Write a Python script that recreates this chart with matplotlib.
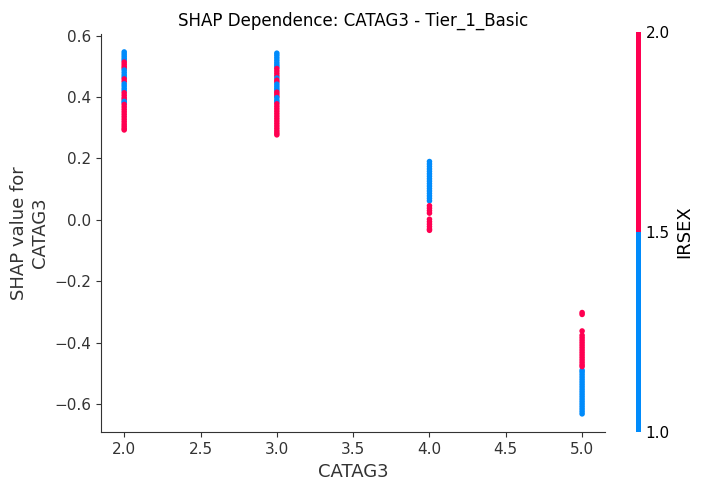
import numpy as np
import matplotlib
matplotlib.use("Agg")
import matplotlib.pyplot as plt
from matplotlib.colors import ListedColormap

# SHAP values per CATAG3 level, with the IRSEX value (1 or 2) of each point
cat2_shap = [0.547, 0.540, 0.533, 0.526, 0.520,
             0.514, 0.507, 0.500, 0.494,
             0.488, 0.480, 0.472, 0.465,
             0.459, 0.451,
             0.443, 0.436, 0.428, 0.421,
             0.414, 0.406, 0.398, 0.392,
             0.386, 0.382,
             0.376, 0.368, 0.360, 0.352, 0.344, 0.336, 0.328, 0.320,
             0.312, 0.305, 0.298, 0.293]
cat2_sex = [1, 1, 1, 1, 1,
            2, 2, 2, 2,
            1, 1, 1, 1,
            2, 2,
            1, 1, 1, 1,
            2, 2, 2, 2,
            1, 1,
            2, 2, 2, 2, 2, 2, 2, 2,
            2, 2, 2, 2]

cat3_shap = [0.543, 0.536, 0.528, 0.520, 0.512, 0.505, 0.499,
             0.493, 0.485, 0.477, 0.469,
             0.462,
             0.455, 0.449,
             0.442, 0.435, 0.428, 0.422,
             0.416, 0.410, 0.403,
             0.398, 0.390, 0.384,
             0.378, 0.370, 0.362, 0.354, 0.346, 0.338, 0.330, 0.322,
             0.314, 0.306, 0.298, 0.290, 0.283, 0.277]
cat3_sex = [1, 1, 1, 1, 1, 1, 1,
            2, 2, 2, 2,
            1,
            2, 2,
            1, 1, 1, 1,
            2, 2, 2,
            1, 1, 1,
            2, 2, 2, 2, 2, 2, 2, 2,
            2, 2, 2, 2, 2, 2]

cat4_shap = [0.190, 0.182, 0.174, 0.166, 0.158, 0.150, 0.142, 0.134, 0.126,
             0.118, 0.110, 0.102, 0.094, 0.086, 0.078, 0.070, 0.062,
             0.046, 0.038, 0.030, 0.022,
             0.002, -0.006, -0.014, -0.022, -0.030, -0.034]
cat4_sex = [1, 1, 1, 1, 1, 1, 1, 1, 1,
            1, 1, 1, 1, 1, 1, 1, 1,
            2, 2, 2, 2,
            2, 2, 2, 2, 2, 2]

cat5_shap = [-0.632, -0.624, -0.616, -0.608, -0.600, -0.592, -0.584, -0.576,
             -0.568, -0.560, -0.552, -0.544, -0.536, -0.528, -0.520, -0.512,
             -0.504, -0.496, -0.490,
             -0.302, -0.308,
             -0.362,
             -0.376, -0.384, -0.392, -0.400, -0.408, -0.416, -0.424, -0.432,
             -0.440, -0.448, -0.456, -0.464, -0.472, -0.478]
cat5_sex = [1, 1, 1, 1, 1, 1, 1, 1,
            1, 1, 1, 1, 1, 1, 1, 1,
            1, 1, 1,
            2, 2,
            2,
            2, 2, 2, 2, 2, 2, 2, 2,
            2, 2, 2, 2, 2, 2]

catag3 = [2.0] * len(cat2_shap) + [3.0] * len(cat3_shap) + [4.0] * len(cat4_shap) + [5.0] * len(cat5_shap)
shap_vals = cat2_shap + cat3_shap + cat4_shap + cat5_shap
irsex = cat2_sex + cat3_sex + cat4_sex + cat5_sex

axis_color = "#333333"
cmap = ListedColormap(["#008bfb", "#ff0051"])

fig = plt.figure(figsize=(7.03, 4.90), dpi=100)
ax = fig.add_axes([0.1441, 0.1178, 0.7165, 0.8128])
cax = fig.add_axes([0.9047, 0.1190, 0.0067, 0.8151])

sc = ax.scatter(catag3, shap_vals, c=irsex, cmap=cmap, vmin=1, vmax=2,
                s=16, linewidth=0, alpha=1)

ax.set_xlim(1.85, 5.15)
ax.set_ylim(-0.692, 0.6055)

ax.set_xlabel("CATAG3", fontsize=13, color=axis_color)
ax.set_ylabel("SHAP value for\nCATAG3", fontsize=13, color=axis_color)
ax.set_title("SHAP Dependence: CATAG3 - Tier_1_Basic", fontsize=12)

ax.spines["top"].set_visible(False)
ax.spines["right"].set_visible(False)
ax.spines["left"].set_color(axis_color)
ax.spines["bottom"].set_color(axis_color)
ax.tick_params(colors=axis_color, labelsize=11)

cb = fig.colorbar(sc, cax=cax, ticks=[1.0, 1.5, 2.0])
cb.outline.set_visible(False)
cb.ax.tick_params(length=0, labelsize=11)
cb.set_label("IRSEX", fontsize=13)

fig.savefig("out.png", dpi=100)
